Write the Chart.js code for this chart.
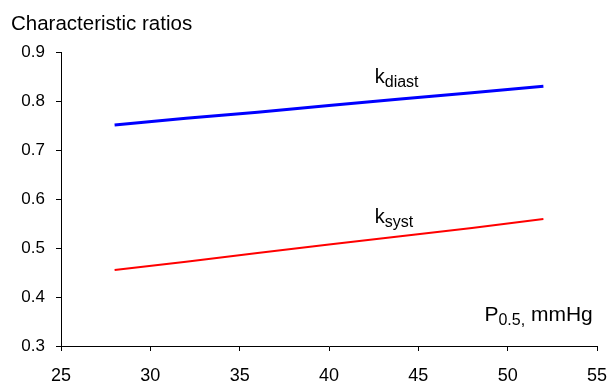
<!DOCTYPE html>
<html lang="en">
<head>
<meta charset="UTF-8">
<title>Characteristic ratios</title>
<script src="https://cdn.jsdelivr.net/npm/chart.js"></script>
<style>
  html, body { margin: 0; padding: 0; background: #fff; }
  #wrap { width: 609px; height: 384px; position: relative; }
</style>
</head>
<body>
<div id="wrap"><canvas id="chart"></canvas></div>
<script>
// P0.5, mmHg
const pressure = [28, 32, 36, 40, 44, 48, 52];
const kDiast = [0.751, 0.765, 0.777, 0.791, 0.804, 0.817, 0.830];
const kSyst = [0.455, 0.472, 0.490, 0.507, 0.524, 0.541, 0.559];
const xTicks = [25, 30, 35, 40, 45, 50, 55];
const yTicks = [0.3, 0.4, 0.5, 0.6, 0.7, 0.8, 0.9];

const FONT = 'Arial, "Liberation Sans", sans-serif';

// text with a subscript part, drawn at a data position
function subText(ctx, x, y, main, sub, tail, size, subSize) {
  ctx.font = size + 'px ' + FONT;
  ctx.fillText(main, x, y);
  let w = ctx.measureText(main).width;
  ctx.font = subSize + 'px ' + FONT;
  ctx.fillText(sub, x + w, y + 4);
  w += ctx.measureText(sub).width;
  if (tail) {
    ctx.font = size + 'px ' + FONT;
    ctx.fillText(tail, x + w, y);
  }
}

const labels = {
  id: 'labels',
  afterDraw(chart) {
    const ctx = chart.ctx;
    const xs = chart.scales.x, ys = chart.scales.y;
    ctx.save();
    ctx.fillStyle = '#000';
    ctx.textBaseline = 'alphabetic';
    ctx.textAlign = 'left';
    ctx.font = '20.5px ' + FONT;
    ctx.fillText('Characteristic ratios', 11, 30);
    subText(ctx, xs.getPixelForValue(42.56), ys.getPixelForValue(0.837), 'k', 'diast', '', 20, 16);
    subText(ctx, xs.getPixelForValue(42.56), ys.getPixelForValue(0.551), 'k', 'syst', '', 20, 16);
    subText(ctx, xs.getPixelForValue(48.7), ys.getPixelForValue(0.351), 'P', '0.5,', ' mmHg', 21, 16);
    ctx.restore();
  }
};

new Chart(document.getElementById('chart'), {
  type: 'line',
  data: {
    datasets: [
      {
        label: 'k diast',
        data: pressure.map((p, i) => ({ x: p, y: kDiast[i] })),
        borderColor: '#0000ff',
        borderWidth: 3,
        pointRadius: 0,
        tension: 0
      },
      {
        label: 'k syst',
        data: pressure.map((p, i) => ({ x: p, y: kSyst[i] })),
        borderColor: '#ff0000',
        borderWidth: 2,
        pointRadius: 0,
        tension: 0
      }
    ]
  },
  options: {
    responsive: true,
    maintainAspectRatio: false,
    animation: false,
    events: [],
    layout: { padding: { left: 0, top: 52, right: 12, bottom: 0 } },
    plugins: { legend: { display: false }, tooltip: { enabled: false } },
    scales: {
      x: {
        type: 'linear',
        min: 25, max: 55,
        afterBuildTicks: s => { s.ticks = xTicks.map(v => ({ value: v })); },
        afterFit: s => { s.height = 38; s.paddingLeft = 0; s.paddingRight = 0; },
        border: { color: '#000', width: 1 },
        grid: { drawOnChartArea: false, color: '#000', tickLength: 5 },
        ticks: { color: '#000', font: { size: 18, family: FONT }, padding: 14, maxRotation: 0 }
      },
      y: {
        min: 0.3, max: 0.9,
        afterBuildTicks: s => { s.ticks = yTicks.map(v => ({ value: v })); },
        afterFit: s => { s.width = 61; s.paddingTop = 0; s.paddingBottom = 0; },
        border: { color: '#000', width: 1 },
        grid: { drawOnChartArea: false, color: '#000', tickLength: 5 },
        ticks: { color: '#000', font: { size: 17, family: FONT }, padding: 11,
                 callback: v => v.toFixed(1) }
      }
    }
  },
  plugins: [labels]
});
</script>
</body>
</html>
